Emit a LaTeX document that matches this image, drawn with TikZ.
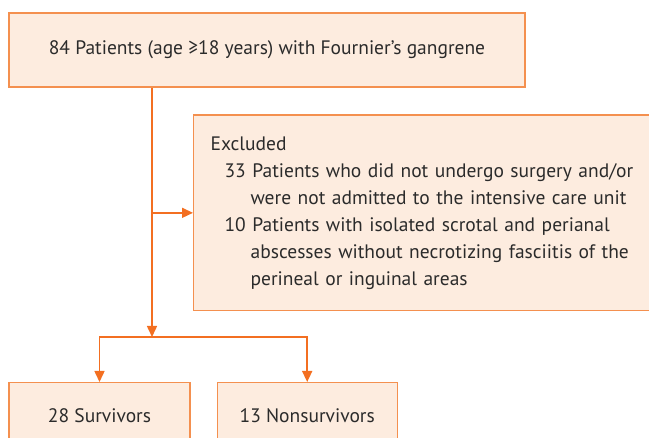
\documentclass[tikz,border=0pt]{standalone}
\usepackage{fontspec}
\setmainfont{PT Sans}
\usetikzlibrary{positioning, arrows.meta}

\definecolor{boxfill}{HTML}{FDECDF}
\definecolor{boxline}{HTML}{F4904F}
\definecolor{flow}{HTML}{F36F21}
\definecolor{ink}{HTML}{2B2B2B}

\tikzset{
    box/.style={draw=boxline, fill=boxfill, line width=1.2pt, rectangle, text=ink},
    flowline/.style={draw=flow, line width=1.5pt, -{Triangle[length=11pt, width=10pt]}}
}

\begin{document}
\begin{tikzpicture}[
    x=1pt, y=1pt,
    font=\fontsize{19.5}{27}\selectfont
]
\useasboundingbox (0,0) rectangle (649,438);

\node[box, minimum width=516pt, minimum height=74pt] (patients) at (267,388)
    {84 Patients (age ≥18 years) with Fournier’s gangrene};

\node[box, anchor=north west, text width=437pt, align=left, minimum height=195.5pt,
      inner xsep=17pt, inner ysep=8pt] (excluded) at (193,323.5)
    {Excluded\\
     \hspace*{14pt}33 Patients who did not undergo surgery and/or\\
     \hspace*{40pt}were not admitted to the intensive care unit\\
     \hspace*{14pt}10 Patients with isolated scrotal and perianal\\
     \hspace*{40pt}abscesses without necrotizing fasciitis of the\\
     \hspace*{40pt}perineal or inguinal areas};

\node[box, anchor=north, minimum width=181pt, minimum height=66pt] (survivors) at (99.5,56)
    {28 Survivors};
\node[box, minimum width=180pt, minimum height=66pt, right=26pt of survivors] (nonsurvivors)
    {13 Nonsurvivors};

\coordinate (split) at (152,101);

\draw[flowline] (patients.south -| split) -- (split);
\draw[flowline] (split |- excluded.west) -- (excluded.west);
\draw[flowline] (split) -| (survivors.north);
\draw[flowline] (split) -| (nonsurvivors.north);

\end{tikzpicture}
\end{document}
